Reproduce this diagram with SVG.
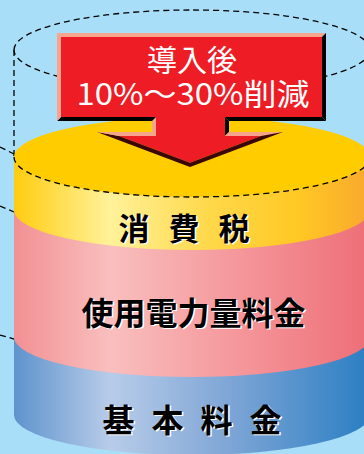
<svg xmlns="http://www.w3.org/2000/svg" width="364" height="454" viewBox="0 0 364 454">
<defs>
<linearGradient id="gY" gradientUnits="userSpaceOnUse" x1="14" y1="0" x2="370" y2="0">
<stop offset="0" stop-color="#FFCC10"/><stop offset="0.27" stop-color="#FFF29A"/><stop offset="0.55" stop-color="#FFD84A"/><stop offset="0.8" stop-color="#FFC824"/><stop offset="1" stop-color="#F9A82E"/>
</linearGradient>
<linearGradient id="gP" gradientUnits="userSpaceOnUse" x1="14" y1="0" x2="370" y2="0">
<stop offset="0" stop-color="#F29093"/><stop offset="0.27" stop-color="#F9BFBE"/><stop offset="0.6" stop-color="#F59A9E"/><stop offset="1" stop-color="#EE6E77"/>
</linearGradient>
<linearGradient id="gB" gradientUnits="userSpaceOnUse" x1="14" y1="0" x2="370" y2="0">
<stop offset="0" stop-color="#5E93CD"/><stop offset="0.27" stop-color="#B8CCE9"/><stop offset="0.6" stop-color="#7FA6D6"/><stop offset="1" stop-color="#2A7EC3"/>
</linearGradient>
</defs>
<style>
.dash{fill:none;stroke:#000;stroke-width:1.3;stroke-dasharray:6 4}
.lt{fill:#F6A48D}
.dk{fill:#000}
.dd{fill:#3A0606}
.wt{font-family:"Noto Sans CJK JP","Noto Sans",sans-serif;fill:#fff;font-size:30px;text-anchor:middle}
.bk{font-family:"Noto Sans CJK JP","Noto Sans",sans-serif;font-weight:bold;text-anchor:middle}
.sh{fill:#fff}
.fg{fill:#000}
</style>
<rect width="364" height="454" fill="#A8DEF8"/>
<g id="outline-cylinder">
<path class="dash" d="M14,50 A178,40 0 0 1 370,50 A178,40 0 0 1 14,50 Z"/>
<path class="dash" d="M14,50 V157"/>
<path class="dash" d="M0,147 L14,154 M0,206 L14,212 M0,335 L14,339"/>
</g>
<g id="base">
<path d="M14,337 H370 V415 A178,40 0 0 1 14,415 Z" fill="url(#gB)"/>
</g>
<g id="usage">
<path d="M14,210 H370 V337 A178,40 0 0 1 14,337 Z" fill="url(#gP)"/>
</g>
<g id="tax">
<path d="M14,157 H370 V210 A178,40 0 0 1 14,210 Z" fill="url(#gY)"/>
<ellipse cx="192" cy="157" rx="178" ry="40" fill="#FFCC00"/>
<path class="dash" d="M14,157 A178,40 0 0 0 370,157"/>
</g>
<g id="arrow">
<polygon fill="#EE1C25" points="61,37 322,37 322,117 225,117 225,136 261,136 190,162.7 119,136 156,136 156,117 61,117"/>
<polygon class="lt" points="57,33 326,33 322,37 61,37"/>
<polygon class="dk" points="326,33 326,121 322,117 322,37"/>
<polygon class="dk" points="326,121 229,121 225,117 322,117"/>
<polygon class="dk" points="229,121 229,132 225,136 225,117"/>
<polygon class="lt" points="229,132 283,132 261,136 225,136"/>
<polygon class="dd" points="283,132 190,167 190,162.7 261,136"/>
<polygon class="dd" points="190,167 97,132 119,136 190,162.7"/>
<polygon class="lt" points="97,132 152,132 156,136 119,136"/>
<polygon class="lt" points="152,132 152,121 156,117 156,136"/>
<polygon class="dk" points="152,121 57,121 61,117 156,117"/>
<polygon class="lt" points="57,121 57,33 61,37 61,117"/>
<text class="wt" x="192" y="71">導入後</text>
<text class="wt" x="193" y="105" textLength="233" lengthAdjust="spacingAndGlyphs">10%～30%削減</text>
</g>
<g id="labels">
<text class="bk sh" x="195" y="241" font-size="31" letter-spacing="19">消費税</text>
<text class="bk fg" x="193.5" y="239.5" font-size="31" letter-spacing="19">消費税</text>
<text class="bk sh" x="195" y="326" font-size="32">使用電力量料金</text>
<text class="bk fg" x="193.5" y="324.5" font-size="32">使用電力量料金</text>
<text class="bk sh" x="202" y="433" font-size="32" letter-spacing="17">基本料金</text>
<text class="bk fg" x="200.5" y="431.5" font-size="32" letter-spacing="17">基本料金</text>
</g>
</svg>
